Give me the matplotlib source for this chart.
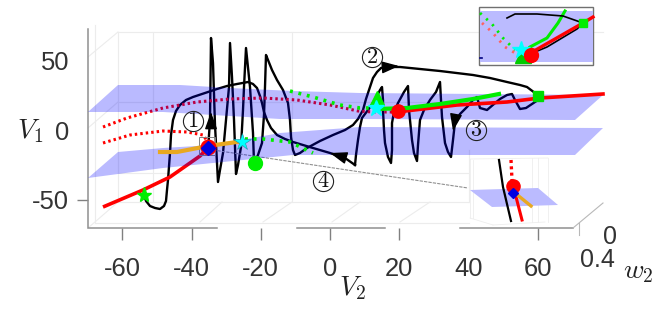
import matplotlib
matplotlib.use('Agg')
import matplotlib.pyplot as plt
from matplotlib.patches import Polygon, Rectangle

# All series in projected (screen) coordinates of the 3-D view.
traj_start = [(144,195),(146,201),(150,206),(155,208),(160,209),(164,206),(166,201),(167,190),(168,180),(170,153),(171,135),(173,120),(176,111),(180,105),(186,100),(193,97),(205,93),(217,89),(227,86),(237,84),(248,82),(253,84),(257,88),(260,96),(262,103),(264,112),(267,120),(271,128),(277,135),(285,139),(293,142),(313,148),(330,153),(345,158),(355,165)]
traj_return = [(355,165),(356,155),(358,140),(360,127),(362,118),(368,110),(375,100),(380,90),(382,87),(383,100),(383,110),(384,130),(385,143),(388,157),(391,163),(392,150),(392,123),(394,112),(398,103),(404,92),(408,86),(409,110),(412,140),(414,153),(417,161),(418,145),(420,120),(424,110),(430,100),(436,92),(440,82),(441,100),(442,117),(445,143),(448,152),(451,157),(453,140),(455,122),(460,114),(467,107),(473,100),(477,97),(480,108),(487,110),(494,104),(500,99),(507,95),(512,94),(515,100),(520,109),(526,108),(532,104),(538,100)]
traj_spikes = [(208,152),(209,135),(210,120),(211,38),(213,63),(215,125),(218,182),(220,170),(223,153),(229,87),(230,43),(232,77),(234,120),(236,174),(238,165),(241,147),(243,110),(244,87),(246,48),(250,87),(253,133),(254,163),(258,155),(262,143),(264,115),(265,87),(266,55),(268,60),(272,70),(277,80),(283,90),(288,103),(290,120),(291,137),(293,150),(295,155),(300,153),(307,148),(320,141),(333,135),(345,130),(353,125),(358,119),(363,110),(366,99),(370,87),(373,78),(377,72),(381,68),(385,67),(400,67),(420,69),(440,71),(473,75),(490,78),(507,82),(520,85),(527,87),(535,93)]
red_solid_left = [(103,207),(143,190),(170,177),(190,163),(200,156),(208,148)]
red_solid_right = [(397,112),(457,105),(507,102),(540,98),(603,94)]
red_dot_low = [(103,143),(130,135),(163,131),(187,132),(203,135),(208,142)]
red_dot_up = [(103,127),(127,118),(163,108),(197,102),(230,99),(263,98),(297,100),(330,105),(358,111),(373,112),(393,112)]
green_dot_up = [(290,91),(313,97),(340,105),(360,108),(377,108)]
green_dot_low = [(245,139),(263,139),(290,142),(313,153)]
green_solid = [(377,109),(407,108),(440,104),(473,99),(499,94)]
orange_curve = [(160,152),(177,152),(208,146),(237,142)]
plane_up = [(88,112),(118,85),(180,85),(230,88),(293,91),(360,93),(603,95),(575,120),(360,119),(280,119),(213,115),(163,112)]
plane_low = [(88,178),(118,152),(163,148),(213,145),(280,133),(360,127),(603,128),(575,155),(293,155),(213,163),(163,168)]
inset1_green_dot = [(480,13),(492,24),(503,38),(515,50)]
inset1_red_dot = [(482,23),(492,32),(505,47),(515,53)]
inset1_green = [(530,47),(547,38),(558,23),(565,11)]
inset1_red = [(527,55),(583,23),(593,17)]
inset1_black = [(507,18),(515,14),(537,14),(563,16),(583,23),(577,29),(547,47),(523,57)]
inset2_plane = [(470,190),(538,188),(558,205),(492,207)]
inset2_black = [(499,160),(503,187),(511,221)]
inset2_red_dot = [(511,160),(512,180)]
inset2_red = [(515,193),(522,220)]
inset2_orange = [(515,193),(531,206)]
connector = [(213,150),(468,188)]
grid_segments = [
 [(118,32),(603,32)],[(118,102),(469,102)],[(118,173),(469,173)],[(118,202),(469,202)],[(95,223),(469,223)],
 [(118,32),(118,202)],[(153,32),(153,202)],[(292,32),(292,202)],[(469,150),(469,202)],[(95,25),(95,223)],
 [(88,57),(118,32)],[(88,128),(118,102)],[(88,228),(118,202)],[(200,222),(222,202)],[(263,222),(292,202)],
 [(332,222),(360,202)],[(400,222),(430,202)]]
inset2_grid = [[(470,159),(470,218)],[(473,160),(473,218)],[(532,158),(532,222)],[(538,158),(538,222)],[(548,158),(548,222)],
 [(470,159),(548,158)],[(470,218),(493,225)],[(493,225),(545,222)]]
axis_segments = [[(88,29),(88,228),(217,228)],[(297,228),(385,228)],[(460,228),(573,228)]]
axis_light = [[(573,228),(603,203)],[(579,223),(579,235)]]
x_ticks = [-60,-40,-20,0,20,40,60]
y_ticks = [-50,0,50]
circled = [('1',193,121),('2',372,57),('3',476,130),('4',323,181)]

plt.rcParams['font.family'] = ['Liberation Sans','DejaVu Sans']
plt.rcParams['mathtext.fontset'] = 'cm'
plt.rcParams['axes.unicode_minus'] = False
W,H = 664,313
fig = plt.figure(figsize=(W/100,H/100),dpi=100)

def xy(p): return [a for a,_ in p],[b for _,b in p]

# real tick axes
tk = fig.add_axes([88/W,1-228/H,485/W,199/H],facecolor='none',zorder=1)
tk.set_xlim(-69.9,70.2); tk.set_ylim(-70.5,72.7)
tk.set_xticks(x_ticks); tk.set_yticks(y_ticks)
tk.tick_params(axis='x',length=8.6,width=1,color='#808080',labelcolor='#333333',labelsize=18.4,pad=12.5)
tk.tick_params(axis='y',length=8,width=1,color='#808080',labelcolor='#333333',labelsize=18.4,pad=5.5)
for s in tk.spines.values(): s.set_visible(False)
tk.xaxis.get_major_ticks()[5].tick1line.set_visible(False)
for i in (1,2): tk.yaxis.get_major_ticks()[i].tick1line.set_visible(False)

ax = fig.add_axes([0,0,1,1],facecolor='none',zorder=2)
ax.set_xlim(0,W); ax.set_ylim(H,0); ax.axis('off')

for g in grid_segments:
    ax.plot(*xy(g),color='#ececec',lw=0.8,zorder=0.5)
for g in inset2_grid:
    ax.plot(*xy(g),color='#eeeeee',lw=0.6,zorder=0.5)
for a in axis_segments:
    ax.plot(*xy(a),color='#909090',lw=1.1,zorder=1,solid_joinstyle='miter')
for a in axis_light:
    ax.plot(*xy(a),color='#b8b8b8',lw=0.8,zorder=1)

black = dict(color='k',lw=1.7,solid_joinstyle='round',zorder=2)
ax.plot(*xy(traj_start),**black)
ax.plot(*xy(traj_return),**black)
ax.plot(*xy(traj_spikes),**black)
ax.plot(*xy(red_solid_left),color='red',lw=2.6,zorder=2,solid_capstyle='butt')
dot = (0,(0.8,1.0))
ax.plot(*xy(red_dot_up),color='red',lw=2.2,ls=dot,zorder=2)
ax.plot(*xy(red_dot_low),color='red',lw=2.2,ls=dot,zorder=2)
ax.plot(*xy(connector),color='#909090',lw=0.8,ls=(0,(3,1)),zorder=2)
ax.add_patch(Rectangle((199,137),16,18,fill=False,ec='#808080',lw=0.7,zorder=2))

for pl in (plane_up,plane_low):
    ax.add_patch(Polygon(pl,closed=True,fc=(0,0,1,0.27),ec='none',zorder=3))

ax.plot(*xy(red_solid_right),color='red',lw=2.6,zorder=4)
ax.plot(*xy(green_solid),color='#00ee00',lw=3,zorder=4.1)
ax.plot(*xy(green_dot_up),color='#00ee00',lw=2.6,ls=(0,(0.8,1.6)),zorder=4)
ax.plot(*xy(green_dot_low),color='#00ee00',lw=2.6,ls=(0,(0.8,1.6)),zorder=4)
ax.plot(*xy(orange_curve),color='#e8a820',lw=3,zorder=4)

ax.plot([208],[147],'o',color='red',ms=10.5,zorder=5)
ax.plot([208],[148],'D',color='#0000e0',ms=7.5,zorder=5.1)
ax.plot([255],[163],'o',color='#00ee00',ms=10,zorder=5)
ax.plot([242],[142],'*',color='cyan',mec='#2090a0',mew=0.4,ms=13,zorder=5.2)
ax.plot([144],[195],'*',color='#00ee00',ms=11,zorder=5)
ax.plot([538],[96],'s',color='#00dd00',ms=7.5,zorder=5)
ax.plot([377],[98],'^',color='#00ee00',ms=10,zorder=4.5)
ax.plot([376],[108],'*',color='cyan',ms=12,zorder=5)
ax.plot([398],[111],'o',color='red',ms=9.5,zorder=5.3)

# arrowheads
for tip,tail in [((211,112),(211,124)),((399,66),(387,67)),((453,131),(455,120)),((330,153),(343,157))]:
    ax.annotate('',xy=tip,xytext=tail,zorder=6,
                arrowprops=dict(arrowstyle='-|>,head_length=0.7,head_width=0.25',color='k',lw=1,shrinkA=0,shrinkB=0,mutation_scale=15))

# circled numbers
for n,x,y in circled:
    ax.plot([x],[y],'o',mfc='none',mec='#222222',mew=0.8,ms=14.5,zorder=6)
    ax.text(x,y+0.5,'$'+n+'$',fontsize=16,ha='center',va='center',color='#111111',zorder=6.1)

# top-right inset
ax.add_patch(Rectangle((479,7),114,58,fc='white',ec='#707070',lw=1,zorder=7))
ax.add_patch(Rectangle((480,11),112.5,51,fc='#bbbbff',ec='none',zorder=7.1))
ax.plot(*xy(inset1_green_dot),color='#00ee00',lw=2,ls=(0,(0.8,2.2)),zorder=7.2)
ax.plot(*xy(inset1_red_dot),color='#ff6060',lw=2,ls=(0,(0.8,2.2)),zorder=7.2)
ax.plot(*xy(inset1_green),color='#00ee00',lw=2.2,zorder=7.2)
ax.plot(*xy(inset1_black),color='k',lw=1.2,zorder=7.3)
ax.plot(*xy(inset1_red),color='red',lw=2.4,zorder=7.4)
ax.plot([480,482],[58,58],color='#000080',lw=1.2,zorder=7.3)
ax.plot([583],[23],'s',color='#00ee00',ms=6,zorder=7.5)
ax.plot([523],[55],'^',color='#00cc00',ms=11,zorder=7.5)
ax.plot([521],[50],'*',color='cyan',ms=13,zorder=7.6)
ax.plot([531],[55],'o',color='red',ms=10,zorder=7.7)

# bottom-right inset
ax.add_patch(Polygon(inset2_plane,closed=True,fc='#bbbbff',ec='none',zorder=7))
ax.plot(*xy(inset2_black),color='k',lw=1.6,zorder=7.2)
ax.plot(*xy(inset2_red_dot),color='red',lw=2.4,ls=(0,(0.9,1.0)),zorder=7.2)
ax.plot(*xy(inset2_red),color='red',lw=2.2,zorder=7.2)
ax.plot(*xy(inset2_orange),color='#e8a820',lw=2.4,zorder=7.3)
ax.plot([513],[186],'o',color='red',ms=9.5,zorder=7.4)
ax.plot([513],[193],'D',color='#0000e0',ms=5.5,zorder=7.5)

# axis titles and third-axis labels
tc = '#333333'
ax.text(610,237,'0',fontsize=18,color=tc,ha='center',va='center',zorder=8)
ax.text(597,260,'0.4',fontsize=18,color=tc,ha='center',va='center',zorder=8)
ax.text(30,131,'$V_1$',fontsize=20,color='#222222',ha='center',va='center',zorder=8)
ax.text(352,288,'$V_2$',fontsize=20,color='#222222',ha='center',va='center',zorder=8)
ax.text(638,272,'$w_2$',fontsize=20,color='#222222',ha='center',va='center',zorder=8)

fig.savefig('out.png',dpi=100)
